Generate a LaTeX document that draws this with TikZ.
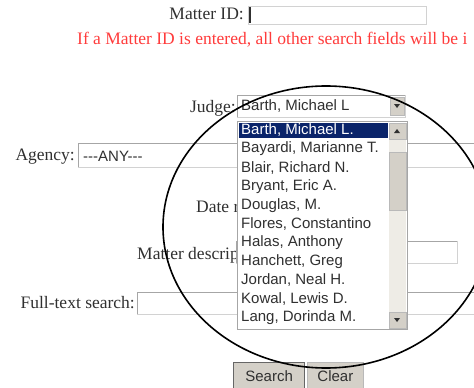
\documentclass[tikz,border=0pt]{standalone}
\usepackage{fontspec}
\setmainfont{Liberation Serif}
\newfontfamily\uifont{Liberation Sans}
\definecolor{hilite}{HTML}{0A246A}
\definecolor{btngray}{HTML}{D4D0C8}
\definecolor{warnred}{HTML}{FF3B3B}
\definecolor{track}{HTML}{EEECE6}
\definecolor{txt}{HTML}{303030}
\tikzset{
  lbl/.style={anchor=east, inner sep=0pt, text=txt, font=\fontsize{17.5}{20}\selectfont},
  ui/.style={anchor=west, inner sep=0pt, text=txt, font=\uifont\fontsize{15}{18}\selectfont},
  field/.style={draw=gray!35, line width=0.8pt, fill=white},
  edge/.style={draw=gray!70, line width=1pt},
  btn/.style={draw=gray!55, line width=0.8pt, fill=btngray},
}

\begin{document}
\begin{tikzpicture}[x=1pt,y=-1pt]
    \useasboundingbox (0,0) rectangle (474,388);
    \clip (0,0) rectangle (474,388);

    % matter id
    \node[lbl] (idlbl) at (244,14) {Matter ID:};
    \draw[field] (248,6) rectangle (426,24);
    \draw[line width=1.2pt, txt] (250,7) -- (250,23);
    \node[lbl, anchor=west, text=warnred] (warn) at (77,40) {If a Matter ID is entered, all other search fields will be i};

    % form rows behind the list
    \node[lbl] (agencylbl) at (75,157) {Agency:};
    \draw[field] (78,143) rectangle (480,167);
    \draw[edge] (78,167) |- (480,143);
    \node[ui] (agency) at (83,156) {-\kern0pt-\kern0pt-ANY-\kern0pt-\kern0pt-};
    \node[lbl, anchor=west] (datelbl) at (196,207) {Date r};
    \node[lbl, anchor=west] (desclbl) at (137,255) {Matter descrip};
    \draw[field] (236,241) rectangle (457,263);
    \draw[edge] (236,263) |- (457,241);
    \node[lbl] (textlbl) at (135,303) {Full-text search:};
    \draw[field] (137,292) rectangle (480,314);
    \draw[edge] (137,314) |- (480,292);

    % judge drop-down
    \node[lbl] (judgelbl) at (236,108) {Judge:};
    \draw[field] (237,95) rectangle (405,117);
    \draw[edge] (237,117) |- (405,95);
    \node[ui] (judgesel) at (241,106) {Barth, Michael L};
    \draw[btn] (390,97) rectangle (404,115);
    \fill[txt] (394,104) -- (400,104) -- (397,108) -- cycle;

    % opened list
    \draw[draw=gray!70, fill=white, line width=1pt] (237,121) rectangle (407,329);
    \fill[hilite] (239,123) rectangle (388,138);
    \fill[track] (389,123) rectangle (406,328);
    \draw[btn] (389,123) rectangle (406,139);
    \draw[btn] (389,152) rectangle (406,210);
    \draw[btn] (389,312) rectangle (406,328);
    \fill[txt] (394,133) -- (400,133) -- (397,129) -- cycle;
    \fill[txt] (394,318) -- (400,318) -- (397,322) -- cycle;
    \node[ui, text=white] (judge0) at (241,130) {Barth, Michael L.};
    \foreach \name [count=\i] in {{Bayardi, Marianne T.},{Blair, Richard N.},{Bryant, Eric A.},{Douglas, M.},{Flores, Constantino},{Halas, Anthony},{Hanchett, Greg},{Jordan, Neal H.},{Kowal, Lewis D.},{Lang, Dorinda M.}}
        \node[ui] (judge\i) at (241,{130+18.8*\i}) {\name};

    % buttons
    \node[btn, draw=gray!80!black, line width=1.2pt, minimum width=71pt, minimum height=28pt, inner sep=0pt, anchor=north west, font=\uifont\fontsize{15}{18}\selectfont, text=txt] (search) at (233,362) {Search};
    \node[btn, minimum width=56pt, minimum height=28pt, inner sep=0pt, anchor=north west, font=\uifont\fontsize{15}{18}\selectfont, text=txt] (clear) at (307,362) {Clear};

    \draw[line width=1.6pt] (326,227) ellipse [x radius=163pt, y radius=141pt]; % the zoom ring
\end{tikzpicture}
\end{document}
